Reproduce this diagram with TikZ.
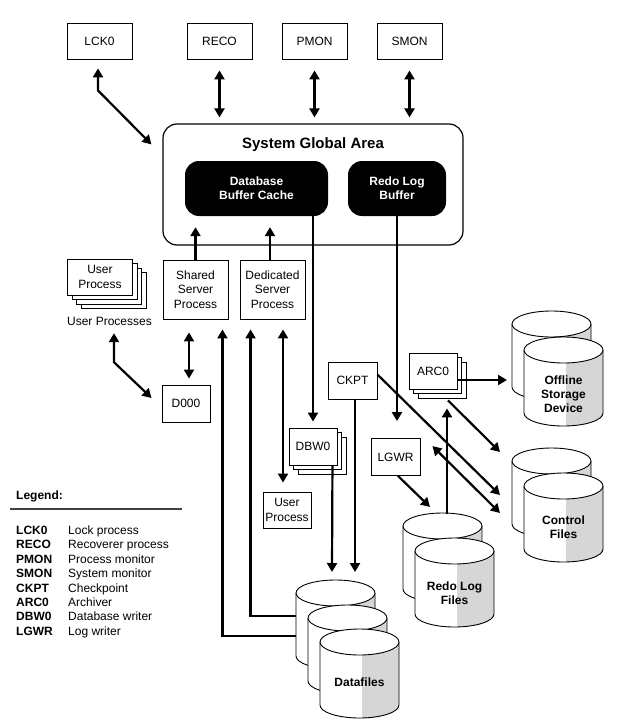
\documentclass[tikz,border=0pt]{standalone}
\usepackage{fontspec}
\setmainfont{Liberation Sans}
\usetikzlibrary{arrows.meta,calc}
\definecolor{cylgray}{HTML}{D6D6D6}
\newcommand{\fs}{\fontsize{12}{14.4}\selectfont}
\newcommand{\fsb}{\fontsize{12}{13.8}\selectfont\bfseries}
\newcommand{\stackbox}[7]{%
  \foreach \k in {#6,...,1}{\draw[line width=0.9pt,fill=white] ($(#2,#3)+(-#4/2+4.5*\k,-#5/2+4.5*\k)$) rectangle ++(#4,#5);}
  \node[pbox,minimum width=#4pt,minimum height=#5pt] (#1) at (#2,#3) {#7};}
\newcommand{\dbcyl}[3]{%
  \begin{scope}[shift={(#2,#3)}]
    \fill[white] (0,13) -- (0,76) arc[start angle=180,end angle=0,x radius=39.5,y radius=13] -- (79,13) -- cycle;
    \begin{scope}
      \clip (0,13) -- (0,76) arc[start angle=180,end angle=0,x radius=39.5,y radius=13] -- (79,13) -- cycle;
      \fill[cylgray] (42,0) rectangle (80,92);
    \end{scope}
    \draw[line width=0.9pt] (0,13) -- (0,76) arc[start angle=180,end angle=0,x radius=39.5,y radius=13] -- (79,13);
    \draw[line width=0.9pt,fill=white] (39.5,13) ellipse[x radius=39.5,y radius=13];
  \end{scope}
  \node[inner sep=0pt,minimum width=79pt,minimum height=89pt,anchor=north west] (#1) at (#2,#3) {};}
\begin{document}
\begin{tikzpicture}[x=1pt,y=-1pt,
  pbox/.style={draw,line width=0.9pt,fill=white,inner sep=0pt,align=center,font=\fs},
  blk/.style={fill=black,rounded corners=14pt,inner sep=0pt,align=center,text=white,font=\fsb},
  cyltext/.style={align=center,font=\fsb,inner sep=0pt},
  conn/.style={line width=2.2pt},
  arr/.style={conn,-{Triangle[length=9pt,width=10pt]}},
  dbl/.style={conn,{Triangle[length=9pt,width=10pt]}-{Triangle[length=9pt,width=10pt]}},
  legc/.style={anchor=west,inner sep=0pt,text height=8.6pt,text depth=0pt,font=\fsb},
  legd/.style={anchor=west,inner sep=0pt,text height=8.6pt,text depth=0pt,font=\fs}]
\useasboundingbox (0,0) rectangle (622,725);

% top background processes
\node[pbox,minimum width=65pt,minimum height=36pt] (lck) at (99.5,41) {LCK0};
\node[pbox,minimum width=65pt,minimum height=36pt] (reco) at (219.5,41) {RECO};
\node[pbox,minimum width=65pt,minimum height=36pt] (pmon) at (314.5,41) {PMON};
\node[pbox,minimum width=65pt,minimum height=36pt] (smon) at (409.5,41) {SMON};

% SGA
\node[draw,line width=1.2pt,rounded corners=14pt,minimum width=300pt,minimum height=121pt,inner sep=0pt] (sga) at (313,184.5) {};
\node[font=\fontsize{15}{18}\selectfont\bfseries,inner sep=0pt] (sgat) at (313,145) {System Global Area};
\node[blk,minimum width=143pt,minimum height=55pt] (dbc) at (256.5,188.5) {Database\\Buffer Cache};
\node[blk,minimum width=98pt,minimum height=55pt] (rlb) at (397,188.5) {Redo Log\\Buffer};

% server processes
\node[pbox,minimum width=65pt,minimum height=59pt] (ssp) at (195.5,289.5) {Shared\\Server\\Process};
\node[pbox,minimum width=65pt,minimum height=59pt] (dsp) at (272.5,289.5) {Dedicated\\Server\\Process};
\stackbox{usp}{100}{277}{65}{36}{3}{User\\Process}
\node[inner sep=0pt,text height=8.6pt,text depth=0pt,font=\fs] (upl) at (109.5,321) {User Processes};
\node[pbox,minimum width=48pt,minimum height=37pt] (d000) at (186,403.5) {D000};
\node[pbox,minimum width=48pt,minimum height=36pt] (usp2) at (287,510) {User\\Process};
\stackbox{dbw}{313}{446.5}{48}{37}{2}{DBW0}
\node[pbox,minimum width=49pt,minimum height=37pt] (ckpt) at (352.5,380.5) {CKPT};
\node[pbox,minimum width=49pt,minimum height=37pt] (lgwr) at (395.5,457) {LGWR};
\stackbox{arc}{433}{371}{48}{36}{2}{ARC0}

% storage
\dbcyl{off1}{512}{311}
\dbcyl{off2}{524}{337}
\node[cyltext] (offt) at ($(off2.north west)+(39.5,57)$) {Offline\\Storage\\Device};
\dbcyl{ctl1}{512}{448}
\dbcyl{ctl2}{524}{473}
\node[cyltext] (ctlt) at ($(ctl2.north west)+(39.5,54)$) {Control\\Files};
\dbcyl{rdo1}{403}{513}
\dbcyl{rdo2}{415}{538}
\node[cyltext] (rdot) at ($(rdo2.north west)+(39.5,55)$) {Redo Log\\Files};
\dbcyl{df1}{296}{580}
\dbcyl{df2}{308}{605}
\dbcyl{df3}{320}{629}
\node[cyltext] (dft) at ($(df3.north west)+(39.5,53)$) {Datafiles};

% connectors: top
\draw[dbl] ($(lck.south)+(-1.5,9)$) -- ++(0,22) -- ($(sga.north west)+(-11,21)$);
\draw[dbl,shorten <=11pt,shorten >=6pt] (reco.south) -- (reco.south |- sga.north);
\draw[dbl,shorten <=11pt,shorten >=6pt] (pmon.south) -- (pmon.south |- sga.north);
\draw[dbl,shorten <=11pt,shorten >=6pt] (smon.south) -- (smon.south |- sga.north);

% into / out of SGA
\draw[arr,shorten >=11pt] (ssp.north) -- (ssp.north |- dbc.south);
\draw[arr,shorten >=11pt] ($(dsp.north)+(-2.5,0)$) -- ($(dsp.north |- dbc.south)+(-2.5,0)$);
\draw[arr] (dbc.south -| dbw.north) -- ($(dbw.north)+(0,-6)$);
\draw[arr] (rlb.south) -- ($(rlb.south |- lgwr.north)+(0,-17)$);

% user side
\draw[dbl] ($(upl.south)+(4.5,7.7)$) -- ++(0,29) -- ($(d000.west)+(-10,-5.5)$);
\draw[dbl] ($(ssp.south)+(-6.5,13)$) -- ($(d000.north)+(3,-6)$);
\draw[arr] ($(df1.north west)+(0,56)$) -| ($(ssp.south east)+(-6,10)$);
\draw[arr] ($(df1.north west)+(0,36)$) -| ($(dsp.south west)+(11,10)$);
\draw[dbl] ($(dsp.south)+(10.5,10)$) -- ($(usp2.north)+(-4,-9)$);

% writers
\draw[arr] ($(dbw.south east)+(-5,0)$) -- ($(df1.north west)+(36,-8)$);
\draw[arr] ($(ckpt.south)+(2.5,0)$) -- ($(df1.north west)+(59,-8)$);
\draw[arr] ($(ckpt.north east)+(0,13)$) -- ($(ctl1.north west)+(-12,47)$);
\draw[dbl] ($(lgwr.north east)+(12,8)$) -- ($(ctl1.north west)+(-12,65)$);
\draw[arr] ($(lgwr.south)+(2.5,0)$) -- ($(rdo1.north west)+(27,-6)$);
\draw[arr] ($(rdo1.north west)+(44,1)$) -- ($(arc.south)+(14,19)$);
\draw[arr] ($(arc.east)+(1,9)$) -- ($(off1.north west)+(-5,69)$);
\draw[arr] ($(arc.south)+(15,11)$) -- ($(ctl1.north west)+(-12,4)$);

% legend
\node[legc] (legt) at (16,495) {Legend:};
\draw[line width=1.4pt,black!75] (10,509) -- (182,509);
\foreach \c/\d [count=\i] in {LCK0/Lock process,RECO/Recoverer process,PMON/Process monitor,SMON/System monitor,CKPT/Checkpoint,ARC0/Archiver,DBW0/Database writer,LGWR/Log writer}{
  \node[legc] (lc\i) at (16,515.6+14.43*\i) {\c};
  \node[legd] (ld\i) at (68,515.6+14.43*\i) {\d};
}
\end{tikzpicture}
\end{document}
